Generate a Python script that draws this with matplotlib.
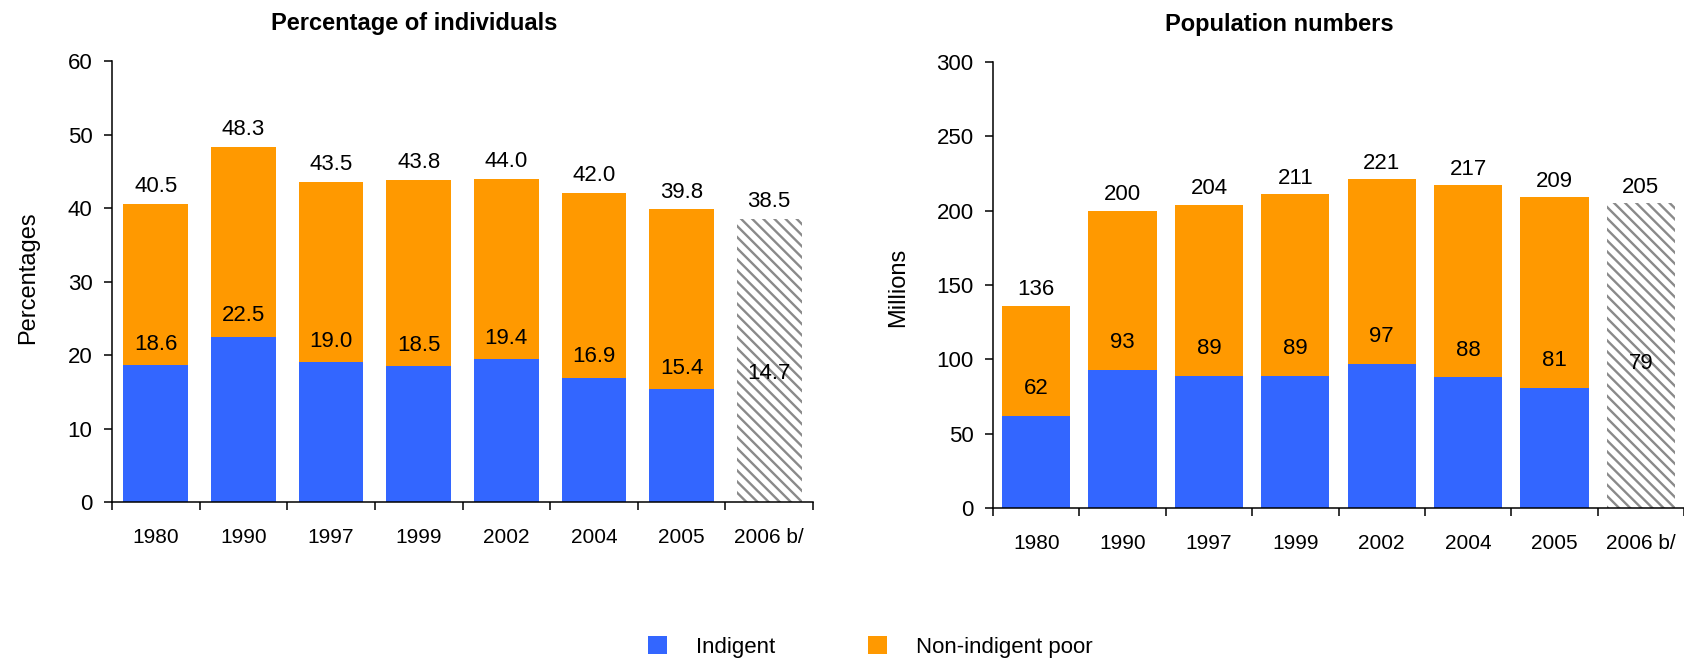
import numpy as np
import matplotlib
matplotlib.use("Agg")
import matplotlib.pyplot as plt
from matplotlib.patches import Patch

plt.rcParams['font.family'] = ['Liberation Sans', 'DejaVu Sans']
plt.rcParams['hatch.linewidth'] = 1.7

# Data
years = ["1980", "1990", "1997", "1999", "2002", "2004", "2005", "2006 b/"]
pct_indigent = [18.6, 22.5, 19.0, 18.5, 19.4, 16.9, 15.4, 14.7]
pct_total = [40.5, 48.3, 43.5, 43.8, 44.0, 42.0, 39.8, 38.5]
mil_indigent = [62, 93, 89, 89, 97, 88, 81, 79]
mil_total = [136, 200, 204, 211, 221, 217, 209, 205]
projected = [False, False, False, False, False, False, False, True]

BLUE = "#3366FF"
ORANGE = "#FF9900"
HATCH_GRAY = "#8a8a8a"

fig = plt.figure(figsize=(16.84, 6.61), dpi=100)
ax1 = fig.add_axes([0.0665, 0.2405, 0.4163, 0.6672])
ax2 = fig.add_axes([0.5897, 0.2315, 0.4103, 0.6747])


def draw_panel(ax, indigent, total, ymax, ystep, width, fmt, inner_off, top_off):
    x = np.arange(len(years))
    ind = np.array(indigent, dtype=float)
    tot = np.array(total, dtype=float)
    non = tot - ind
    for i in x:
        if projected[i]:
            ax.bar(i, ind[i], width, color="white", edgecolor=HATCH_GRAY,
                   linewidth=0, hatch="\\\\\\")
            ax.bar(i, non[i], width, bottom=ind[i], color="white",
                   edgecolor=HATCH_GRAY, linewidth=0, hatch="\\\\\\")
        else:
            ax.bar(i, ind[i], width, color=BLUE, linewidth=0)
            ax.bar(i, non[i], width, bottom=ind[i], color=ORANGE, linewidth=0)
        ax.annotate(fmt.format(ind[i]), (i, ind[i]), xytext=(0, inner_off),
                    textcoords="offset points", ha="center", va="center",
                    fontsize=16)
        ax.annotate(fmt.format(tot[i]), (i, tot[i]), xytext=(0, top_off),
                    textcoords="offset points", ha="center", va="center",
                    fontsize=16, annotation_clip=False)

    ax.set_xlim(-0.5, len(years) - 0.5)
    ax.set_ylim(0, ymax)
    ax.set_yticks(np.arange(0, ymax + ystep, ystep))
    ax.set_xticks(x)
    ax.set_xticklabels(years)
    ax.set_xticks(np.arange(-0.5, len(years), 1), minor=True)
    ax.tick_params(axis="x", which="major", length=0, pad=18.5, labelsize=15)
    ax.tick_params(axis="x", which="minor", length=6, width=1.1, direction="out")
    ax.tick_params(axis="y", length=6, width=1.1, direction="out", pad=8,
                   labelsize=16)
    for side in ("top", "right"):
        ax.spines[side].set_visible(False)
    for side in ("left", "bottom"):
        ax.spines[side].set_linewidth(1.1)
        ax.spines[side].set_color("black")
    ax.spines["bottom"].set_zorder(5)


draw_panel(ax1, pct_indigent, pct_total, 60, 10, 0.74, "{:.1f}", 15, 12.5)
draw_panel(ax2, mil_indigent, mil_total, 300, 50, 0.79, "{:.0f}", 19.5, 11.5)

# Titles and axis labels
fig.text(0.2458, 0.9637, "Percentage of individuals", ha="center", va="center",
         fontsize=17, fontweight="bold")
fig.text(0.7595, 0.9622, "Population numbers", ha="center", va="center",
         fontsize=17, fontweight="bold")
fig.text(0.0166, 0.5794, "Percentages", rotation=90, ha="center", va="center",
         fontsize=17)
fig.text(0.5333, 0.5658, "Millions", rotation=90, ha="center", va="center",
         fontsize=17)

# Legend
handles = [Patch(facecolor=BLUE, edgecolor="none", label="Indigent"),
           Patch(facecolor=ORANGE, edgecolor="none", label="Non-indigent poor")]
fig.legend(handles=handles, loc="center left", bbox_to_anchor=(648 / 1684, 0.021),
           ncol=2, frameon=False, fontsize=16, handlelength=0.85,
           handleheight=0.85, handletextpad=1.3, columnspacing=4.2,
           borderpad=0, borderaxespad=0)

fig.savefig("out.png", dpi=100)
